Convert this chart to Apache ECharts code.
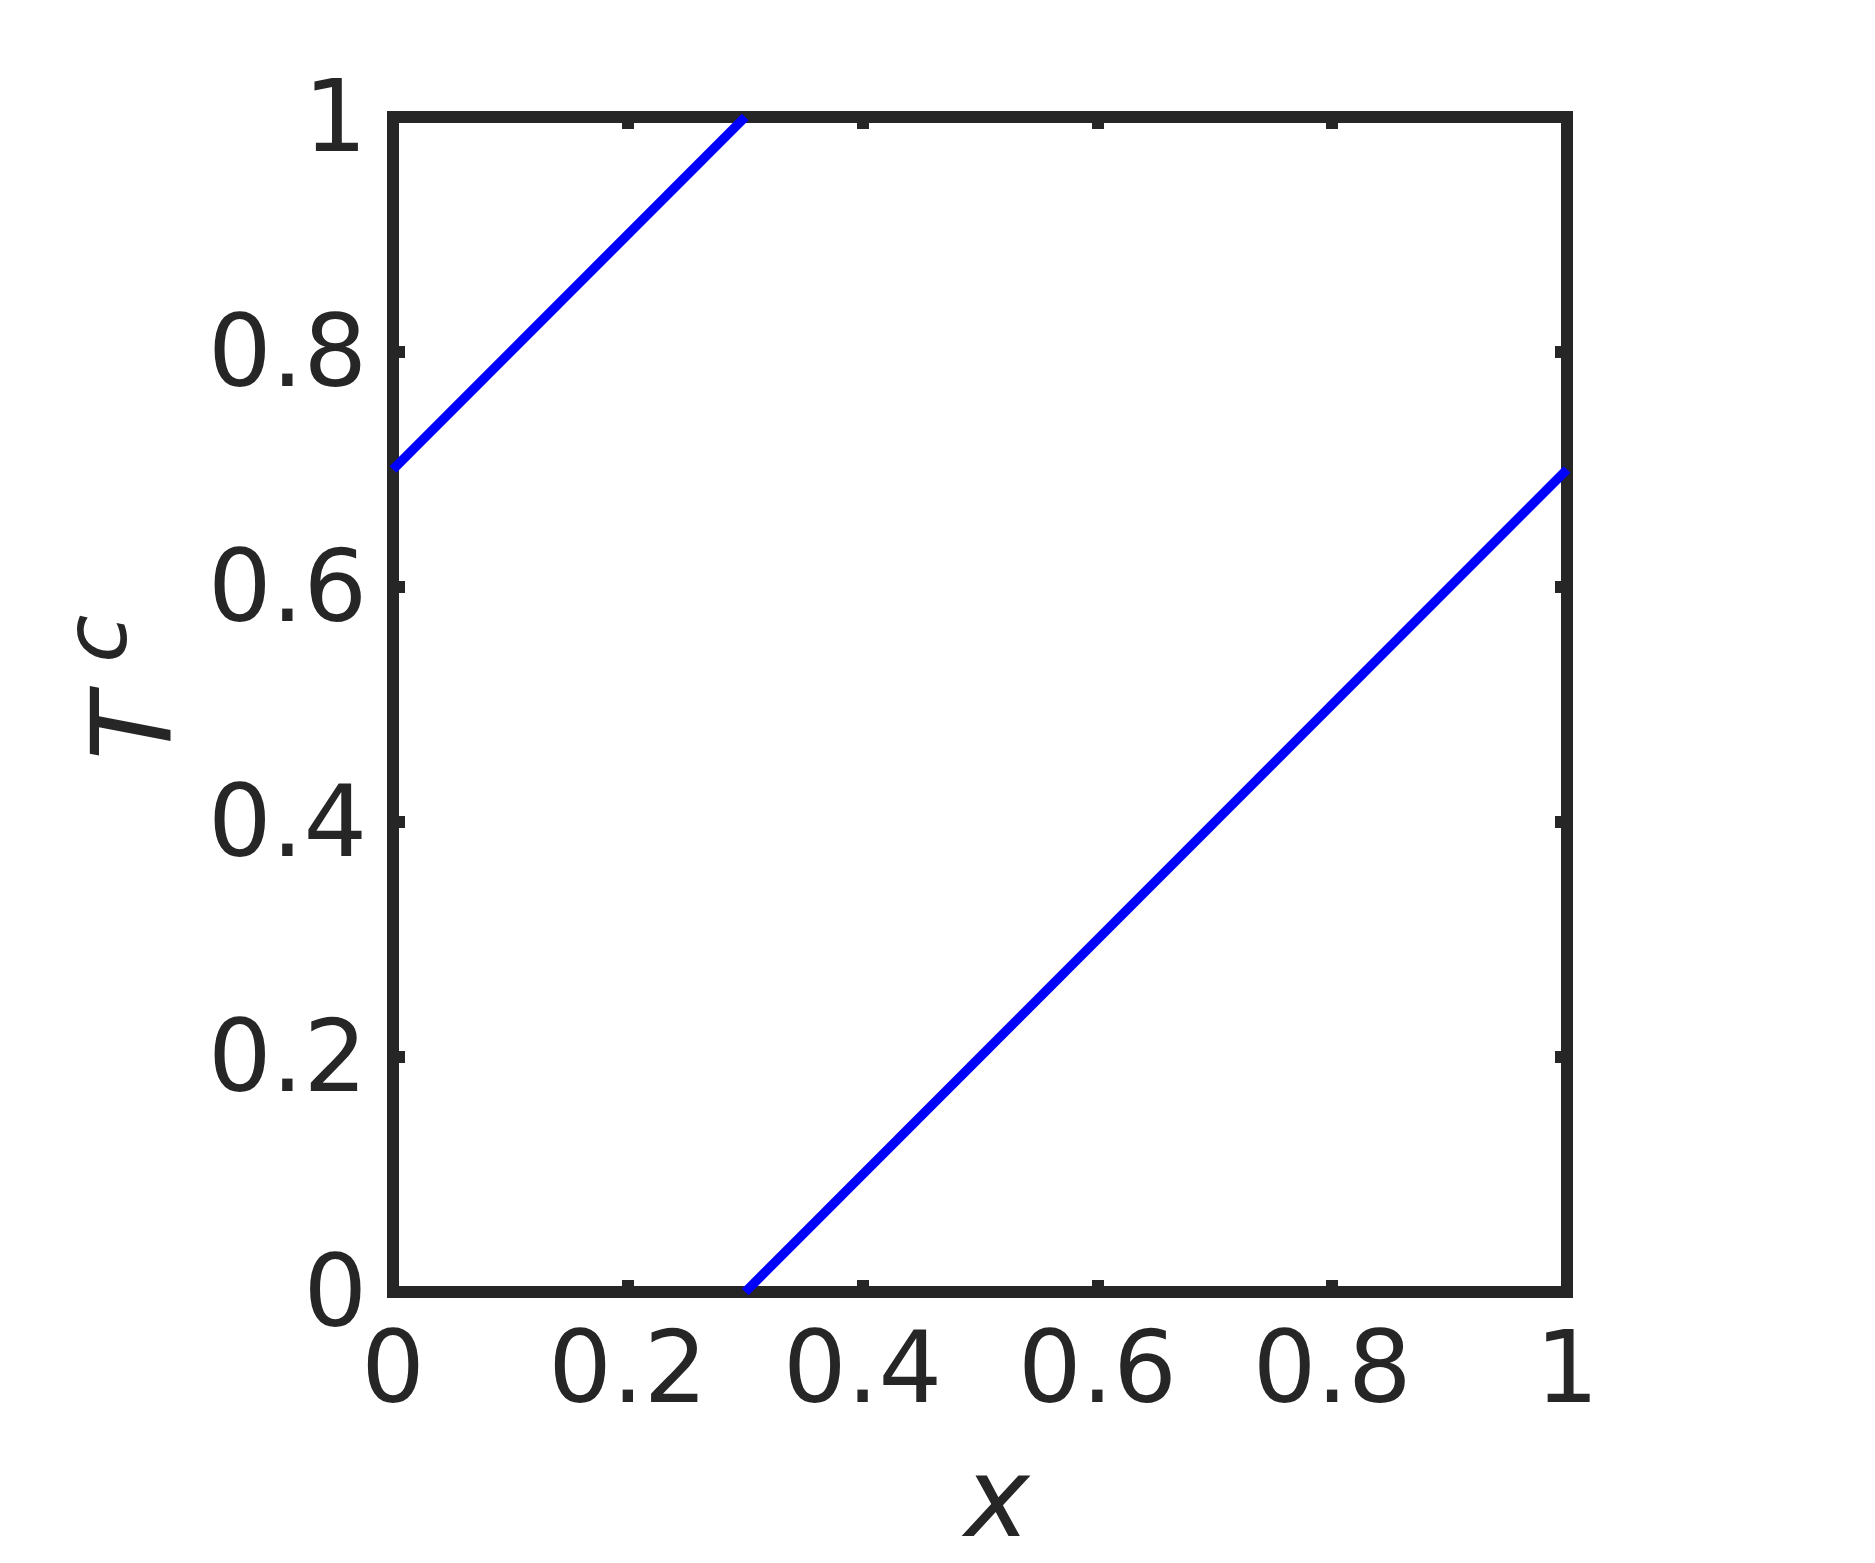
<!DOCTYPE html>
<html>
<head>
<meta charset="utf-8">
<script src="https://cdn.jsdelivr.net/npm/echarts@6/dist/echarts.min.js"></script>
<style>
html,body{margin:0;padding:0;background:#fff;}
#chart{width:1875px;height:1563px;}
</style>
</head>
<body>
<div id="chart"></div>
<script>
// Data
var upperSegment = [[0, 0.7], [0.3, 1.0]];
var lowerSegment = [[0.3, 0.0], [1.0, 0.7]];
var xTicks = [0, 0.2, 0.4, 0.6, 0.8, 1];
var yTicks = [0, 0.2, 0.4, 0.6, 0.8, 1];
var xName = 'x';
var yNameBase = 'T';
var yNameSup = 'c';

var axisColor = '#262626';
var font = 'DejaVu Sans';

function fmt(v) { return String(Math.round(v * 10) / 10); }

var chart = echarts.init(document.getElementById('chart'), null, {renderer: 'canvas'});
var tickStyle = {show: true, inside: true, length: 12, lineStyle: {color: axisColor, width: 12}};
var hiddenLine = {show: false, onZero: false};
var option = {
  backgroundColor: '#ffffff',
  animation: false,
  grid: {left: 393, right: 308, top: 117, bottom: 271, outerBoundsMode: 'none', containLabel: false,
         show: true, borderWidth: 12, borderColor: axisColor, backgroundColor: 'transparent'},
  xAxis: [{
    type: 'value', min: xTicks[0], max: xTicks[xTicks.length - 1], interval: 0.2, position: 'bottom',
    splitLine: {show: false}, axisLine: hiddenLine, axisTick: tickStyle,
    axisLabel: {show: true, fontFamily: font, fontSize: 100, color: axisColor, margin: 34, formatter: fmt},
    name: xName, nameLocation: 'middle', nameGap: 160,
    nameTextStyle: {fontFamily: font, fontSize: 110, fontStyle: 'italic', color: axisColor, padding: [0, 0, 0, 34]}
  }, {
    type: 'value', min: xTicks[0], max: xTicks[xTicks.length - 1], interval: 0.2, position: 'top',
    splitLine: {show: false}, axisLine: hiddenLine, axisTick: tickStyle, axisLabel: {show: false}
  }],
  yAxis: [{
    type: 'value', min: yTicks[0], max: yTicks[yTicks.length - 1], interval: 0.2, position: 'left',
    splitLine: {show: false}, axisLine: hiddenLine, axisTick: tickStyle,
    axisLabel: {show: true, color: axisColor, margin: 26,
      formatter: function (v) { return '{a|' + fmt(v) + '}'; },
      rich: {a: {fontFamily: font, fontSize: 100, color: axisColor, padding: [16, 0, 0, 0]}}},
    name: '{t|' + yNameBase + '}{s|' + yNameSup + '}', nameLocation: 'middle', nameGap: 195, nameRotate: 90,
    nameTextStyle: {
      color: axisColor,
      rich: {
        t: {fontFamily: font, fontSize: 110, fontStyle: 'italic', color: axisColor, padding: [0, 0, 0, 34], verticalAlign: 'bottom'},
        s: {fontFamily: font, fontSize: 88, fontStyle: 'italic', color: axisColor, padding: [0, 0, 50, 30], verticalAlign: 'bottom'}
      }
    }
  }, {
    type: 'value', min: yTicks[0], max: yTicks[yTicks.length - 1], interval: 0.2, position: 'right',
    splitLine: {show: false}, axisLine: hiddenLine, axisTick: tickStyle, axisLabel: {show: false}
  }],
  series: [{
    type: 'line', data: upperSegment, xAxisIndex: 0, yAxisIndex: 0, showSymbol: false, symbol: 'none', clip: false,
    lineStyle: {color: '#0000ff', width: 9.5}, z: 5
  }, {
    type: 'line', data: lowerSegment, xAxisIndex: 0, yAxisIndex: 0, showSymbol: false, symbol: 'none', clip: false,
    lineStyle: {color: '#0000ff', width: 9.5}, z: 5
  }]
};
chart.setOption(option);
</script>
</body>
</html>
